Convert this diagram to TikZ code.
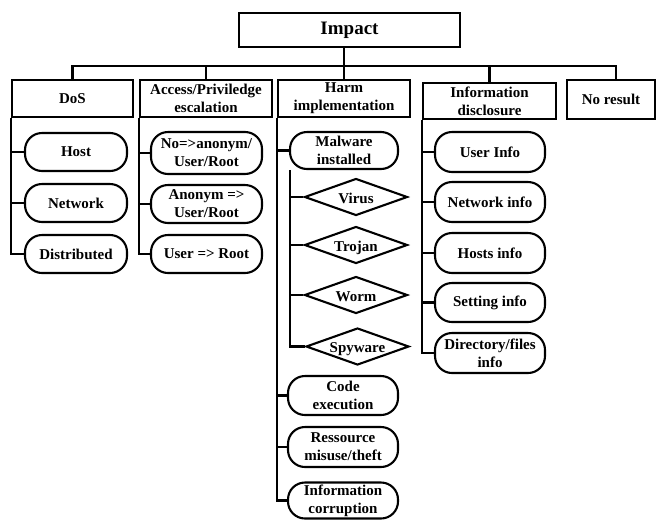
\documentclass[tikz,border=0pt]{standalone}
\usepackage{fontspec}
\setmainfont{Liberation Serif}
\usetikzlibrary{shapes.geometric}
\tikzset{
  every node/.style={font=\fontsize{15}{18}\selectfont\bfseries, align=center, inner sep=0pt},
  catbox/.style={draw, line width=2.3pt, rectangle},
  leafbox/.style={draw, line width=2.1pt, rectangle, rounded corners=17pt, minimum height=38pt},
  gembox/.style={draw, line width=2.1pt, diamond, aspect=2.8, minimum width=103pt, minimum height=37pt,
                 text height=13pt, text depth=1pt},
  wire/.style={line width=2.3pt},
}
\begin{document}
\begin{tikzpicture}[x=1pt, y=-1pt]
\useasboundingbox (0,0) rectangle (658,520);

% root
\node[catbox, minimum width=221pt, minimum height=34pt, font=\fontsize{19}{21}\selectfont\bfseries] (impact) at (349.5,30) {Impact};

% categories
\node[catbox, minimum width=121pt, minimum height=37pt] (dos)    at (72.5,98.5)  {DoS};
\node[catbox, minimum width=132pt, minimum height=37pt] (access) at (206,98.5)   {Access/Priviledge\\escalation};
\node[catbox, minimum width=132pt, minimum height=37pt] (harm)   at (344,98.5)   {Harm\\implementation};
\node[catbox, minimum width=133pt, minimum height=36pt] (info)   at (489.5,101)  {Information\\disclosure};
\node[catbox, minimum width=88pt,  minimum height=39pt] (nores)  at (611,99.5)   {No result};

% bus from root to categories
\coordinate (bus) at (344,66);
\draw[wire] (impact.south -| bus) -- (bus);
\draw[wire] (dos.north) |- (bus);
\draw[wire] (access.north) |- (bus);
\draw[wire] (bus) -- (harm.north);
\draw[wire] (info.north) |- (bus);
\draw[wire] ([xshift=5pt]nores.north) |- (bus);

% DoS
\node[leafbox, minimum width=102pt] (host) at (76,152) {Host};
\node[leafbox, minimum width=102pt] (net)  at (76,203) {Network};
\node[leafbox, minimum width=102pt] (dist) at (76,254) {Distributed};
\draw[wire] (dos.south west) |- (dist.west);
\draw[wire] (dos.south west |- host.west) -- (host.west);
\draw[wire] (dos.south west |- net.west) -- (net.west);

% Access / privilege escalation
\node[leafbox, minimum width=111pt, minimum height=42pt] (anon) at (206.5,153) {No=>anonym/\\User/Root};
\node[leafbox, minimum width=111pt] (anuser) at (206.5,204) {Anonym =>\\User/Root};
\node[leafbox, minimum width=111pt] (uroot)  at (206.5,254) {User => Root};
\draw[wire] (access.south west) |- (uroot.west);
\draw[wire] (access.south west |- anon.west) -- (anon.west);
\draw[wire] (access.south west |- anuser.west) -- (anuser.west);

% Harm implementation
\node[leafbox, minimum width=108pt, minimum height=37pt] (malw) at (344,150.5) {Malware\\installed};
\node[gembox] (virus) at (356,197) {Virus};
\node[gembox] (troj)  at (356,245) {Trojan};
\node[gembox] (worm)  at (356,295) {Worm};
\node[gembox] (spy)   at (357.5,346.5) {Spyware};
\node[leafbox, minimum width=110pt, minimum height=39pt] (code) at (343,395.5) {Code\\execution};
\node[leafbox, minimum width=110pt, minimum height=40pt] (ress) at (343,447) {Ressource\\misuse/theft};
\node[leafbox, minimum width=110pt, minimum height=36pt] (corr) at (343,500.5) {Information\\corruption};
\draw[wire] (harm.south west) |- (corr.west);
\draw[wire] (harm.south west |- malw.west) -- (malw.west);
\draw[wire] (harm.south west |- code.west) -- (code.west);
\draw[wire] (harm.south west |- ress.west) -- (ress.west);
\coordinate (mstem) at ([xshift=1pt]malw.south west);
\draw[wire] (mstem) |- (spy.west);
\draw[wire] (mstem |- virus.west) -- (virus.west);
\draw[wire] (mstem |- troj.west) -- (troj.west);
\draw[wire] (mstem |- worm.west) -- (worm.west);

% Information disclosure
\node[leafbox, minimum width=110pt, minimum height=40pt] (uinfo) at (490,152) {User Info};
\node[leafbox, minimum width=110pt, minimum height=40pt] (ninfo) at (490,202) {Network info};
\node[leafbox, minimum width=110pt, minimum height=40pt] (hinfo) at (490,253) {Hosts info};
\node[leafbox, minimum width=110pt, minimum height=39pt] (sinfo) at (490,302.5) {Setting info};
\node[leafbox, minimum width=110pt, minimum height=40pt] (dinfo) at (490,353) {Directory/files\\info};
\draw[wire] (info.south west) |- (dinfo.west);
\draw[wire] (info.south west |- uinfo.west) -- (uinfo.west);
\draw[wire] (info.south west |- ninfo.west) -- (ninfo.west);
\draw[wire] (info.south west |- hinfo.west) -- (hinfo.west);
\draw[wire] (info.south west |- sinfo.west) -- (sinfo.west);
\end{tikzpicture}
\end{document}
